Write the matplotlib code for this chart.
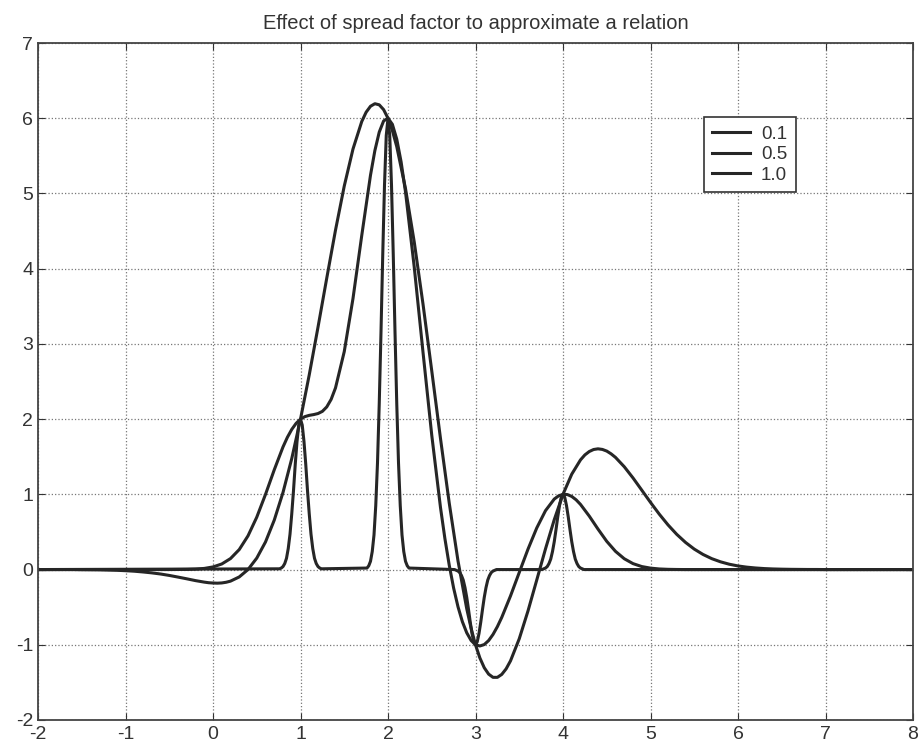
import numpy as np
import matplotlib
matplotlib.use("Agg")
import matplotlib.pyplot as plt

plt.rcParams['font.family'] = ['Liberation Sans', 'DejaVu Sans']
plt.rcParams['axes.unicode_minus'] = False

title = "Effect of spread factor to approximate a relation"
legend_labels = ["0.1", "0.5", "1.0"]
x_ticks = [-2, -1, 0, 1, 2, 3, 4, 5, 6, 7, 8]
y_ticks = [-2, -1, 0, 1, 2, 3, 4, 5, 6, 7]

# spread 0.1: narrow spikes around the training points (read offsets / heights)
spike_centers = [1.0, 2.0, 3.0, 4.0]
spike_offsets = [-0.24, -0.22, -0.20, -0.18, -0.16, -0.14, -0.12, -0.10, -0.08, -0.06,
                 -0.04, -0.02, 0.0, 0.02, 0.04, 0.06, 0.08, 0.10, 0.12, 0.14, 0.16,
                 0.18, 0.20, 0.22, 0.24]
spike1_y = [0.01, 0.02, 0.04, 0.08, 0.15, 0.28, 0.47, 0.74, 1.05, 1.40, 1.70, 1.92, 2.00,
            1.92, 1.70, 1.40, 1.05, 0.74, 0.47, 0.28, 0.15, 0.08, 0.04, 0.02, 0.01]
spike2_y = [0.02, 0.05, 0.11, 0.24, 0.46, 0.85, 1.42, 2.21, 3.16, 4.19, 5.11, 5.77, 6.00,
            5.77, 5.11, 4.19, 3.16, 2.21, 1.42, 0.85, 0.46, 0.24, 0.11, 0.05, 0.02]
spike3_y = [0.00, -0.01, -0.02, -0.04, -0.08, -0.14, -0.24, -0.37, -0.53, -0.70, -0.85, -0.96, -1.00,
            -0.96, -0.85, -0.70, -0.53, -0.37, -0.24, -0.14, -0.08, -0.04, -0.02, -0.01, 0.00]
spike4_y = [0.00, 0.01, 0.02, 0.04, 0.08, 0.14, 0.24, 0.37, 0.53, 0.70, 0.85, 0.96, 1.00,
            0.96, 0.85, 0.70, 0.53, 0.37, 0.24, 0.14, 0.08, 0.04, 0.02, 0.01, 0.00]

# spreads 0.5 and 1.0 sampled every 0.1 from -2 to 8
x_grid = np.round(np.arange(-2.0, 8.0001, 0.1), 1)
y_05 = [0.00, 0.00, 0.00, 0.00, 0.00, 0.00, 0.00, 0.00, 0.00, 0.00,   # -2.0 .. -1.1
        0.00, 0.00, 0.00, 0.00, 0.00, 0.00, 0.001, 0.002, 0.006, 0.015,  # -1.0 .. -0.1
        0.035, 0.074, 0.146, 0.266, 0.448, 0.696, 0.999, 1.326, 1.630, 1.863,  # 0.0 .. 0.9
        2.000, 2.050, 2.074, 2.162, 2.415, 2.897, 3.604, 4.441, 5.243, 5.816,  # 1.0 .. 1.9
        6.000, 5.722, 5.020, 4.020, 2.890, 1.787, 0.824, 0.057, -0.495, -0.841,  # 2.0 .. 2.9
        -1.000, -0.997, -0.863, -0.636, -0.351, -0.039, 0.271, 0.553, 0.783, 0.937,  # 3.0 .. 3.9
        1.000, 0.972, 0.866, 0.711, 0.538, 0.375, 0.242, 0.144, 0.079, 0.040,  # 4.0 .. 4.9
        0.019, 0.008, 0.003, 0.001, 0.00, 0.00, 0.00, 0.00, 0.00, 0.00,  # 5.0 .. 5.9
        0.00, 0.00, 0.00, 0.00, 0.00, 0.00, 0.00, 0.00, 0.00, 0.00,  # 6.0 .. 6.9
        0.00, 0.00, 0.00, 0.00, 0.00, 0.00, 0.00, 0.00, 0.00, 0.00,  # 7.0 .. 7.9
        0.00]  # 8.0
# extra readings at the bends of the spread-0.5 curve
x_05_extra = [0.85, 0.95, 1.05, 1.15, 1.25, 1.35, 1.85, 1.95, 2.05, 2.15,
              2.65, 2.75, 2.85, 2.95, 3.05, 3.15, 3.25, 3.95, 4.05, 4.15]
y_05_extra = [1.758, 1.944, 2.033, 2.060, 2.103, 2.262, 5.570, 5.964, 5.919, 5.418,
              0.414, -0.246, -0.693, -0.943, -1.016, -0.944, -0.759, 0.980, 0.997, 0.927]

y_10 = [0.00, 0.00, 0.00, 0.00, 0.00, -0.002, -0.003, -0.004, -0.007, -0.010,   # -2.0 .. -1.1
        -0.015, -0.022, -0.032, -0.044, -0.059, -0.078, -0.100, -0.123, -0.147, -0.167,  # -1.0 .. -0.1
        -0.179, -0.178, -0.154, -0.098, 0.000, 0.152, 0.367, 0.657, 1.025, 1.475,  # 0.0 .. 0.9
        2.000, 2.589, 3.222, 3.874, 4.512, 5.098, 5.591, 5.956, 6.159, 6.178,  # 1.0 .. 1.9
        5.999, 5.623, 5.065, 4.354, 3.530, 2.642, 1.741, 0.883, 0.115, -0.522,  # 2.0 .. 2.9
        -1.001, -1.305, -1.433, -1.394, -1.214, -0.920, -0.550, -0.139, 0.275, 0.663,  # 3.0 .. 3.9
        1.000, 1.268, 1.458, 1.569, 1.605, 1.575, 1.491, 1.367, 1.218, 1.056,  # 4.0 .. 4.9
        0.893, 0.737, 0.594, 0.468, 0.361, 0.272, 0.201, 0.145, 0.103, 0.071,  # 5.0 .. 5.9
        0.048, 0.032, 0.021, 0.013, 0.008, 0.005, 0.003, 0.002, 0.001, 0.001,  # 6.0 .. 6.9
        0.00, 0.00, 0.00, 0.00, 0.00, 0.00, 0.00, 0.00, 0.00, 0.00,  # 7.0 .. 7.9
        0.00]  # 8.0
# extra readings at the bends of the spread-1.0 curve
x_10_extra = [-0.05, 0.05, 0.15, 1.75, 1.85, 1.95, 2.05, 2.95, 3.05, 3.15, 3.25, 3.35,
              4.25, 4.35, 4.45, 4.55]
y_10_extra = [-0.175, -0.181, -0.169, 6.080, 6.193, 6.114, 5.835, -0.782, -1.175, -1.390,
              -1.433, -1.320, 1.524, 1.596, 1.597, 1.538]


def merged(xa, ya, xb, yb):
    xs = np.concatenate([np.asarray(xa, float), np.asarray(xb, float)])
    ys = np.concatenate([np.asarray(ya, float), np.asarray(yb, float)])
    order = np.argsort(xs, kind='stable')
    return xs[order], ys[order]


x_05, y_05_all = merged(x_grid, y_05, x_05_extra, y_05_extra)
x_10, y_10_all = merged(x_grid, y_10, x_10_extra, y_10_extra)

# assemble the spread-0.1 curve
x_01 = [-2.0]
y_01 = [0.0]
for c, ys in zip(spike_centers, [spike1_y, spike2_y, spike3_y, spike4_y]):
    x_01 += [c + o for o in spike_offsets]
    y_01 += ys
x_01.append(8.0)
y_01.append(0.0)

fig = plt.figure(figsize=(9.21, 7.47), dpi=100)
ax = fig.add_axes([38 / 921, 1 - 720 / 747, 875 / 921, 677 / 747])

line_color = '#262626'
lw = 2.2
ax.plot(x_01, y_01, color=line_color, lw=lw, label=legend_labels[0], solid_joinstyle='round')
ax.plot(x_05, y_05_all, color=line_color, lw=lw, label=legend_labels[1], solid_joinstyle='round')
ax.plot(x_10, y_10_all, color=line_color, lw=lw, label=legend_labels[2], solid_joinstyle='round')

ax.set_xlim(-2, 8)
ax.set_ylim(-2, 7)
ax.set_xticks(x_ticks)
ax.set_yticks(y_ticks)
ax.grid(True, linestyle=':', color='#777777', linewidth=0.9)
ax.tick_params(direction='in', top=True, right=True, length=5, width=0.8,
               labelsize=14, colors='#333333')
ax.tick_params(axis='x', pad=4)
ax.tick_params(axis='y', pad=3.5)
for sp in ax.spines.values():
    sp.set_color('#444444')
    sp.set_linewidth(1.3)

ax.set_title(title, fontsize=14.5, color='#333333', pad=10)

leg = ax.legend(loc='upper right', bbox_to_anchor=(0.866, 0.89), fontsize=13.5,
                frameon=True, fancybox=False, edgecolor='#333333', framealpha=1,
                handlelength=2.0, handletextpad=0.6, borderpad=0.45, labelspacing=0.17,
                borderaxespad=0)
leg.get_frame().set_linewidth(1.2)
for t in leg.get_texts():
    t.set_color('#333333')

fig.savefig("out.png", dpi=100)
